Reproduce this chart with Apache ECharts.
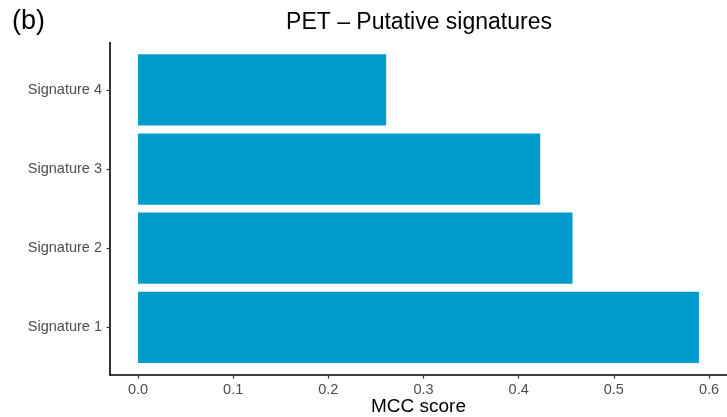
<!DOCTYPE html>
<html>
<head>
<meta charset="utf-8">
<script src="https://cdn.jsdelivr.net/npm/echarts@6/dist/echarts.min.js"></script>
<style>
  html, body { margin: 0; padding: 0; background: #ffffff; }
  #chart { width: 727px; height: 417px; }
</style>
</head>
<body>
<div id="chart"></div>
<script>
// MCC score of each putative signature (PET)
const categories = ['Signature 1', 'Signature 2', 'Signature 3', 'Signature 4'];
const mccScores = [0.590, 0.457, 0.423, 0.261];
const xTicks = [0, 0.1, 0.2, 0.3, 0.4, 0.5, 0.6];

const FONT = "'Liberation Sans', Arial, Helvetica, sans-serif";
const BAR_COLOR = '#009BCD';

// 5% padding on both sides of the value range, as in the panel
const maxScore = Math.max(...mccScores);
const pad = 0.05 * maxScore;

const chart = echarts.init(document.getElementById('chart'), null, { renderer: 'canvas' });

const option = {
  backgroundColor: '#ffffff',
  animation: false,
  graphic: [
    {
      type: 'text', x: 12, y: 22,
      style: { text: '(b)', font: '27px ' + FONT, fill: '#000000', textAlign: 'left', textVerticalAlign: 'middle' }
    },
    {
      type: 'text', x: 419, y: 23,
      style: { text: 'PET \u2013 Putative signatures', font: '23px ' + FONT, fill: '#000000', textAlign: 'center', textVerticalAlign: 'middle' }
    }
  ],
  grid: [
    // bars and category ticks
    { left: 110, right: 0, top: 50.3, bottom: 50, containLabel: false, outerBoundsMode: 'none' },
    // panel frame carrying the axis lines and the x title
    { left: 110, right: 0, top: 42.5, bottom: 42, containLabel: false, outerBoundsMode: 'none' },
    // x tick marks and labels
    { left: 138, right: 18, top: 42.5, bottom: 42, containLabel: false, outerBoundsMode: 'none' }
  ],
  xAxis: [
    {
      type: 'value', gridIndex: 0, min: -pad, max: maxScore + pad,
      show: false
    },
    {
      type: 'value', gridIndex: 1, min: 0, max: 1, position: 'bottom',
      name: 'MCC score', nameLocation: 'middle', nameGap: 22,
      nameTextStyle: { color: '#000000', fontSize: 19, fontFamily: FONT },
      axisLine: { show: true, onZero: false, lineStyle: { color: '#000000', width: 1.6 } },
      axisTick: { show: false }, axisLabel: { show: false }, splitLine: { show: false }
    },
    {
      type: 'value', gridIndex: 2, position: 'bottom',
      min: xTicks[0], max: xTicks[xTicks.length - 1], interval: 0.1,
      axisLine: { show: false, onZero: false },
      axisTick: { show: true, length: 3.5, lineStyle: { color: '#333333', width: 1.2 } },
      axisLabel: {
        show: true, margin: 7, color: '#4D4D4D', fontSize: 14.5, fontFamily: FONT,
        formatter: v => v.toFixed(1)
      },
      splitLine: { show: false }
    }
  ],
  yAxis: [
    {
      type: 'category', gridIndex: 0, data: categories, position: 'left',
      axisLine: { show: false, onZero: false },
      axisTick: { show: true, alignWithLabel: true, length: 3.5, lineStyle: { color: '#333333', width: 1.2 } },
      axisLabel: { show: true, margin: 8, color: '#4D4D4D', fontSize: 14.5, fontFamily: FONT },
      splitLine: { show: false }
    },
    {
      type: 'value', gridIndex: 1, min: 0, max: 1, position: 'left',
      axisLine: { show: true, onZero: false, lineStyle: { color: '#000000', width: 1.6 } },
      axisTick: { show: false }, axisLabel: { show: false }, splitLine: { show: false }
    },
    {
      type: 'value', gridIndex: 2, min: 0, max: 1, show: false
    }
  ],
  series: [
    {
      type: 'bar', xAxisIndex: 0, yAxisIndex: 0,
      data: mccScores,
      barCategoryGap: '10%',
      itemStyle: { color: BAR_COLOR },
      silent: true
    }
  ]
};

chart.setOption(option);
</script>
</body>
</html>
